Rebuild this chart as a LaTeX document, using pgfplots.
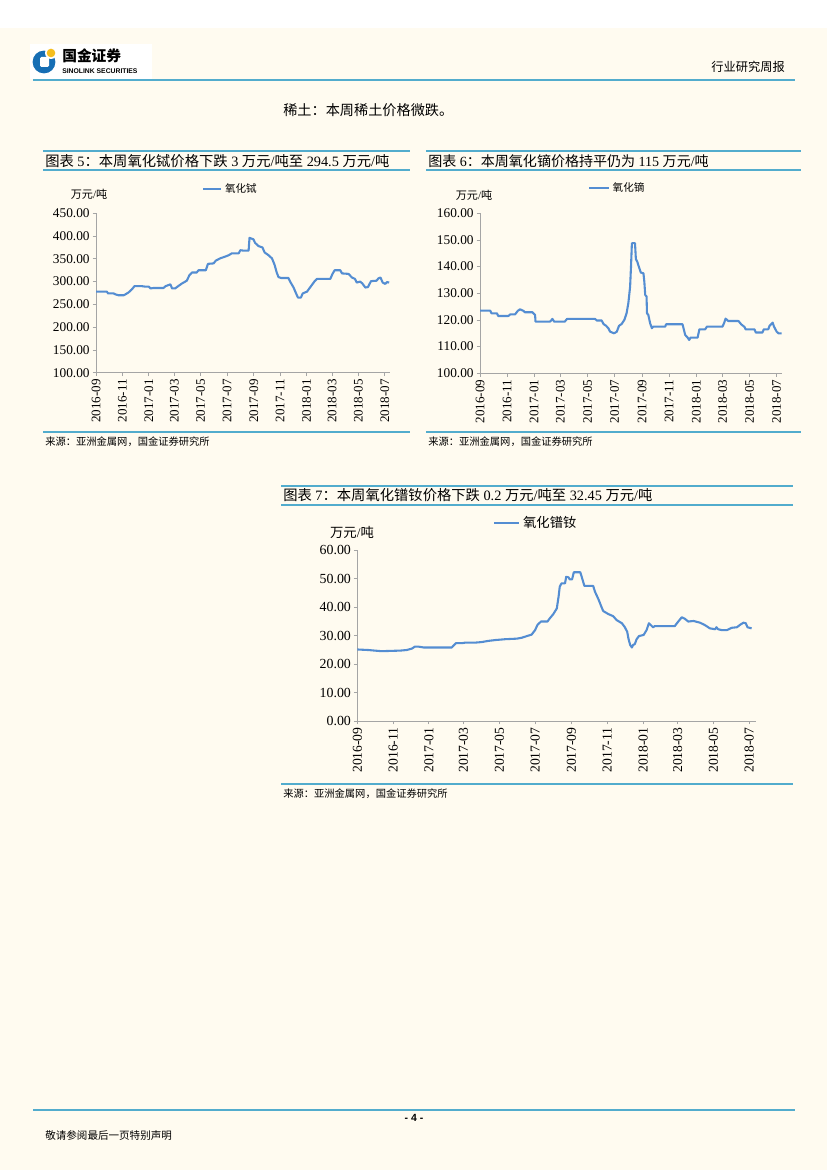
\documentclass[border=0pt]{standalone}
\usepackage{fontspec}
\setmainfont{Liberation Serif}
\newfontfamily\cjk{Noto Sans CJK SC}
\newfontfamily\lsans{Liberation Sans}
\usepackage{pgfplots}
\pgfplotsset{compat=1.18}

\definecolor{page}{RGB}{255,251,240}
\definecolor{rule}{RGB}{82,172,205}
\definecolor{series}{RGB}{84,141,210}
\definecolor{axisgray}{RGB}{165,165,165}
\definecolor{logoblue}{RGB}{22,110,180}
\definecolor{logoyellow}{RGB}{245,190,30}

\newcommand\zh[1]{{\cjk #1}}
\newcommand\fs[1]{\fontsize{#1bp}{#1bp}\selectfont}

% tables, x = days since 2016-09-01
\pgfplotstableread{
d v
0 278
25 278
28 274
41 274
45 272
52 270
64 270
68 272
75 276
83 283
89 290
106 290
114 289
122 289
126 285
133 286
156 286
161 290
172 294
176 285
183 285
190 290
199 296
210 302
216 314
222 320
233 320
237 325
254 325
259 339
272 340
277 346
287 351
299 355
307 358
314 362
330 362
334 369
341 368
353 368
355 396
364 393
368 385
376 378
385 375
390 364
399 358
407 351
413 337
418 320
422 310
428 308
445 308
449 300
457 287
461 278
467 265
474 265
478 274
488 278
495 287
505 300
511 306
542 306
547 317
552 325
565 325
569 318
584 317
592 309
599 306
603 298
611 300
616 296
623 287
629 288
636 301
649 302
653 307
658 309
663 298
669 295
673 299
678 298
}\tbdata

\pgfplotstableread{
d v
0 123.5
23 123.5
26 122.5
38 122.5
41 121.5
64 121.5
68 122.1
79 122.1
85 123.4
90 124.0
98 123.4
101 122.9
118 122.9
124 121.9
125 119.4
158 119.4
163 120.4
167 119.4
191 119.4
196 120.4
259 120.4
263 119.8
274 119.8
278 118.5
284 117.8
289 116.9
293 115.6
302 115.0
308 115.6
313 117.8
319 118.5
325 120.0
330 122.5
334 126.3
338 132.5
340 140.0
342 148.8
349 148.8
351 142.8
354 141.9
357 140.3
362 137.8
368 137.5
370 134.4
372 129.4
375 128.8
376 122.5
379 121.9
383 118.8
387 116.9
390 117.5
417 117.5
419 118.4
456 118.4
462 114.4
467 113.5
471 112.5
474 113.4
490 113.4
494 116.5
507 116.5
511 117.5
546 117.5
550 119.0
553 120.5
559 119.6
582 119.6
588 118.4
596 117.3
598 116.5
618 116.5
621 115.3
636 115.3
639 116.5
649 116.5
652 117.8
659 119.0
662 117.5
668 115.6
672 115.0
679 115.0
}\dydata

\pgfplotstableread{
d v
0 25.1
19 24.9
41 24.5
73 24.7
84 24.9
93 25.4
98 26.1
104 26.1
113 25.8
161 25.8
168 27.3
178 27.3
184 27.5
201 27.5
212 27.7
223 28.1
235 28.4
252 28.7
272 28.9
280 29.2
289 29.8
297 30.3
303 31.9
307 33.7
313 34.9
324 34.9
328 36.0
334 37.5
340 39.5
343 43.6
345 47.1
348 48.3
354 48.3
356 50.6
360 50.4
362 49.7
366 49.7
369 52.2
380 52.2
382 50.9
387 47.4
402 47.4
405 45.4
411 42.7
416 40.1
419 38.6
428 37.5
436 36.8
442 35.4
451 34.3
456 32.9
460 31.3
462 29.0
465 26.7
468 25.8
470 26.7
473 27.0
476 28.7
480 29.8
488 30.2
493 31.9
497 34.3
501 33.5
504 32.9
507 33.3
541 33.3
547 34.9
553 36.4
558 35.9
564 34.9
573 35.1
584 34.5
592 33.7
601 32.5
610 32.2
612 32.9
615 32.2
621 31.9
630 31.9
638 32.7
647 32.9
652 33.7
658 34.5
662 34.3
665 32.9
672 32.5
}\prnddata

\pgfplotsset{
  pricechart/.style={
    scale only axis,
    xmin=0, xmax=680,
    axis x line*=bottom, axis y line*=left,
    axis line style={draw=axisgray, line width=0.6bp},
    tick style={draw=axisgray, line width=0.6bp},
    tick align=outside,
    major tick length=2.4bp,
    xtick={0,61,122,181,242,303,365,426,487,546,607,668},
    xticklabels={2016-09,2016-11,2017-01,2017-03,2017-05,2017-07,2017-09,2017-11,2018-01,2018-03,2018-05,2018-07},
    xticklabel style={rotate=90, anchor=east, font=\fs{9.4}, inner sep=2bp},
    yticklabel style={font=\fs{9.6}, inner sep=2bp},
    scaled y ticks=false,
    /pgf/number format/.cd, fixed, fixed zerofill, precision=2, assume math mode=true,
    /pgfplots/.cd,
    legend style={draw=none, fill=none, anchor=west, inner sep=0pt,
      legend cell align=left},
  },
  priceline/.style={series, line width=1.5bp, no marks, line join=round},
}

\begin{document}
\begin{tikzpicture}
\begin{scope}[x=0.72bp, y=-0.72bp]
\useasboundingbox (0,0) rectangle (827,1170);
\fill[page] (0,0) rectangle (827,1170);
\fill[white] (0,0) rectangle (827,28);

% header
\fill[white] (30,44) rectangle (152,79);
\fill[logoblue] (44,62) circle (8.2bp);
\fill[white, rounded corners=1bp] (40,57) rectangle (49,67);
\fill[white] (51,53) circle (4.3bp);
\fill[logoyellow] (51,53) circle (3.1bp);
\node[anchor=west, inner sep=0pt] at (62,56) {\fs{10.6}\cjk\bfseries 国金证券};
\node[anchor=west, inner sep=0pt] at (62,71) {\fs{4.9}\lsans\bfseries SINOLINK SECURITIES};
\node[anchor=east, inner sep=0pt] at (785,67) {\fs{8.8}\zh{行业研究周报}};
\draw[rule, line width=2bp] (33,80) -- (795,80);

\node[anchor=west, inner sep=0pt] at (283,110) {\fs{10.2}\zh{稀土：本周稀土价格微跌。}};

% chart 5 frame
\draw[rule, line width=1.1bp] (43,151) -- (410,151);
\draw[rule, line width=1.1bp] (43,170) -- (410,170);
\node[anchor=west, inner sep=0pt] at (45,161) {\fs{10.3}\zh{图表} 5\zh{：本周氧化铽价格下跌} 3 \zh{万元}/\zh{吨至} 294.5 \zh{万元}/\zh{吨}};
\draw[rule, line width=1.1bp] (43,432) -- (410,432);
\node[anchor=west, inner sep=0pt] at (45,442) {\fs{7.4}\zh{来源：亚洲金属网，国金证券研究所}};
\node[inner sep=0pt] at (89,194) {\fs{8}\zh{万元}/\zh{吨}};

% chart 6 frame
\draw[rule, line width=1.1bp] (426,151) -- (801,151);
\draw[rule, line width=1.1bp] (426,170) -- (801,170);
\node[anchor=west, inner sep=0pt] at (428,161) {\fs{10.1}\zh{图表} 6\zh{：本周氧化镝价格持平仍为} 115 \zh{万元}/\zh{吨}};
\draw[rule, line width=1.1bp] (426,432) -- (801,432);
\node[anchor=west, inner sep=0pt] at (428,442) {\fs{7.4}\zh{来源：亚洲金属网，国金证券研究所}};
\node[inner sep=0pt] at (474,195) {\fs{8}\zh{万元}/\zh{吨}};

% chart 7 frame
\draw[rule, line width=1.1bp] (281,486) -- (793,486);
\draw[rule, line width=1.1bp] (281,505) -- (793,505);
\node[anchor=west, inner sep=0pt] at (283,495) {\fs{10.3}\zh{图表} 7\zh{：本周氧化镨钕价格下跌} 0.2 \zh{万元}/\zh{吨至} 32.45 \zh{万元}/\zh{吨}};
\draw[rule, line width=1.1bp] (281,784) -- (793,784);
\node[anchor=west, inner sep=0pt] at (283,794) {\fs{7.4}\zh{来源：亚洲金属网，国金证券研究所}};
\node[inner sep=0pt] at (352,532) {\fs{9.6}\zh{万元}/\zh{吨}};

% footer
\draw[rule, line width=2bp] (33,1110) -- (795,1110);
\node[inner sep=0pt] at (414,1118) {\fs{7.5}\lsans\bfseries - 4 -};
\node[anchor=west, inner sep=0pt] at (45,1135) {\fs{7.6}\zh{敬请参阅最后一页特别声明}};
\end{scope}

% chart 5: terbium oxide
\begin{axis}[pricechart,
  at={({96*0.72bp},{-372.7*0.72bp})}, anchor=south west,
  width={294*0.72bp}, height={159.4*0.72bp},
  ymin=100, ymax=450, ytick={100,150,...,450},
  legend style={at={(0.36,1.152)}, font=\fs{7.6}},
  legend image code/.code={\draw[#1] (0bp,0bp) -- (13bp,0bp);},
]
\addplot[priceline] table[x=d, y=v] {\tbdata};
\addlegendentry{\zh{氧化铽}}
\end{axis}

% chart 6: dysprosium oxide
\begin{axis}[pricechart,
  at={({480*0.72bp},{-373.3*0.72bp})}, anchor=south west,
  width={302*0.72bp}, height={160*0.72bp},
  ymin=100, ymax=160, ytick={100,110,...,160},
  legend style={at={(0.358,1.158)}, font=\fs{7.6}},
  legend image code/.code={\draw[#1] (0bp,0bp) -- (14bp,0bp);},
]
\addplot[priceline] table[x=d, y=v] {\dydata};
\addlegendentry{\zh{氧化镝}}
\end{axis}

% chart 7: PrNd oxide
\begin{axis}[pricechart,
  at={({357.3*0.72bp},{-721*0.72bp})}, anchor=south west,
  width={399*0.72bp}, height={171*0.72bp},
  ymin=0, ymax=60, ytick={0,10,...,60},
  legend style={at={(0.34,1.158)}, font=\fs{9.6}},
  legend image code/.code={\draw[#1] (0bp,0bp) -- (18bp,0bp);},
  xticklabel style={font=\fs{9.8}},
  yticklabel style={font=\fs{10}},
]
\addplot[priceline] table[x=d, y=v] {\prnddata};
\addlegendentry{\zh{氧化镨钕}}
\end{axis}
\end{tikzpicture}
\end{document}
